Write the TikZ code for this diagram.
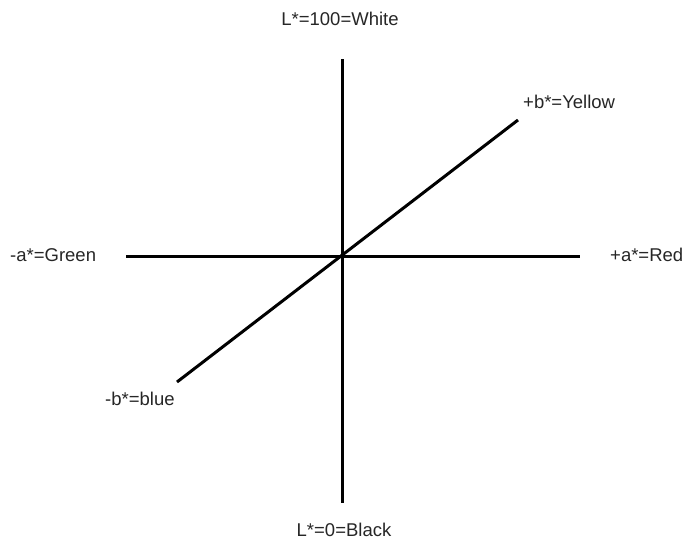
\documentclass[tikz,border=0pt]{standalone}
\usepackage{fontspec}
\setmainfont{Liberation Sans}
\usetikzlibrary{positioning}
\tikzset{
  axis/.style={line width=3pt, color=black},
  lab/.style={font=\fontsize{18.5}{21}\selectfont, inner sep=0pt, color=black!85},
}
\begin{document}
\begin{tikzpicture}[x=1pt, y=-1pt]
    \useasboundingbox (0,0) rectangle (684,546);
    \coordinate (lTop) at (342,59);
    \coordinate (lBot) at (342,503);
    \coordinate (aNeg) at (126,256);
    \coordinate (aPos) at (580,256);
    \coordinate (bPos) at (518,120);
    \coordinate (bNeg) at (177,382);
    \node[lab] (white) at (340,19) {L*=100=White};
    \node[lab] (black) at (344,530) {L*=0=Black};
    \node[lab, anchor=west] (green) at (10,255) {-a*=Green};
    \node[lab, anchor=west] (red) at (610,255) {+a*=Red};
    \node[lab, anchor=west] (yellow) at (523,102) {+b*=Yellow};
    \node[lab, anchor=west] (blue) at (105,399) {-b*=blue};
    \draw[axis] (lTop) -- (lBot);
    \draw[axis] (aNeg) -- (aPos);
    \draw[axis] (bNeg) -- (bPos);
\end{tikzpicture}
\end{document}
